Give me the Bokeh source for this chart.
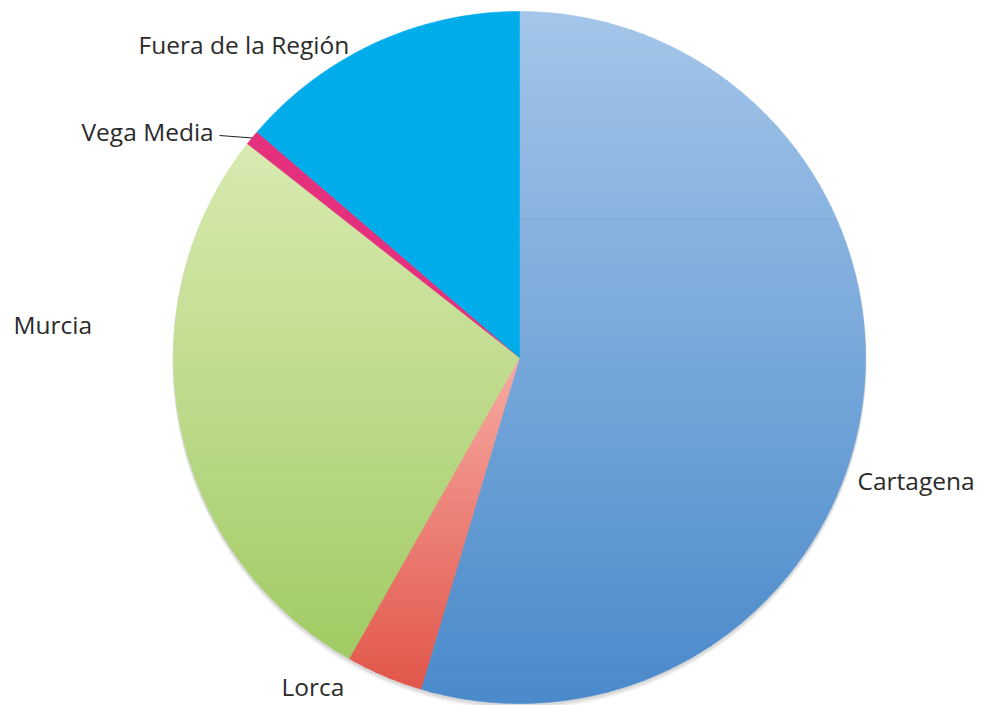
import math
from bokeh.plotting import figure
from bokeh.models import Range1d
from bokeh.core.properties import value
from bokeh.embed import file_html
from bokeh.resources import INLINE

# ---- data ----
categories = ["Cartagena", "Lorca", "Murcia", "Vega Media", "Fuera de la Región"]
shares = [54.6, 3.6, 27.4, 0.7, 13.7]
top_colors = ["#A4C5E9", "#F6ABA4", "#D9EAB1", "#E5307D", "#00ADEA"]
bottom_colors = ["#4A8ACB", "#E2564A", "#A1CB64", "#E5307D", "#00ADEA"]

# ---- layout ----
W, H = 983, 705
CX, CY, R = 519, 357, 346
label_pos = {
    "Cartagena": (857, 480),
    "Lorca": (281, 686),
    "Murcia": (13, 324),
    "Vega Media": (81, 131),
    "Fuera de la Región": (138, 44),
}
leader = {"Vega Media": ((219, 135), (252, 137.5))}

p = figure(width=W, height=H, output_backend="svg", toolbar_location=None,
           x_range=Range1d(0, W), y_range=Range1d(H, 0),
           min_border=0, outline_line_color=None, background_fill_color="white")
p.axis.visible = False
p.grid.visible = False


def hex2rgb(h):
    h = h.lstrip("#")
    return tuple(int(h[i:i + 2], 16) for i in (0, 2, 4))


def mix(c1, c2, t):
    a, b = hex2rgb(c1), hex2rgb(c2)
    return "#%02x%02x%02x" % tuple(int(round(a[i] + (b[i] - a[i]) * t)) for i in range(3))


def clip(poly, yv, keep_above):
    out = []
    n = len(poly)
    def inside(pt):
        return pt[1] >= yv if keep_above else pt[1] <= yv
    for i in range(n):
        cur, prev = poly[i], poly[i - 1]
        ci, pi = inside(cur), inside(prev)
        if ci:
            if not pi:
                t = (yv - prev[1]) / (cur[1] - prev[1])
                out.append((prev[0] + t * (cur[0] - prev[0]), yv))
            out.append(cur)
        elif pi:
            t = (yv - prev[1]) / (cur[1] - prev[1])
            out.append((prev[0] + t * (cur[0] - prev[0]), yv))
    return out


# soft shadow below the pie
for k, a in [(5, 0.04), (3.5, 0.05), (2, 0.06)]:
    p.circle(x=[CX], y=[CY + k], radius=R + 1, fill_color="black", fill_alpha=a,
             line_color=None)

total = sum(shares)
start = 0.0
xs_all, ys_all, cols = [], [], []
for cat, s, ct, cb in zip(categories, shares, top_colors, bottom_colors):
    sweep = 360.0 * s / total
    end = start + sweep
    nseg = max(4, int(sweep * 2))
    poly = [(CX, CY)]
    for i in range(nseg + 1):
        th = math.radians(start + sweep * i / nseg)
        poly.append((CX + R * math.sin(th), CY - R * math.cos(th)))
    ymin = min(q[1] for q in poly)
    ymax = max(q[1] for q in poly)
    nb = 60 if ct != cb else 1
    for b in range(nb):
        y0 = ymin + (ymax - ymin) * b / nb - 0.4
        y1 = ymin + (ymax - ymin) * (b + 1) / nb + 0.4
        part = clip(clip(poly, y0, True), y1, False)
        if len(part) < 3:
            continue
        xs_all.append([q[0] for q in part])
        ys_all.append([q[1] for q in part])
        cols.append(mix(ct, cb, (b + 0.5) / nb))
    start = end

p.patches(xs=xs_all, ys=ys_all, fill_color=cols, line_color=cols, line_width=0.6)

# leader lines
for cat, ((x0, y0), (x1, y1)) in leader.items():
    p.line(x=[x0, x1], y=[y0, y1], line_color="#222222", line_width=1.2)

# labels
p.text(x=[label_pos[c][0] for c in categories], y=[label_pos[c][1] for c in categories],
       text=categories, text_font=value("Open Sans"), text_font_size="24.5px",
       text_color="#2b2b2b", text_align="left", text_baseline="middle")

open("out.html", "w").write(file_html(p, INLINE))
